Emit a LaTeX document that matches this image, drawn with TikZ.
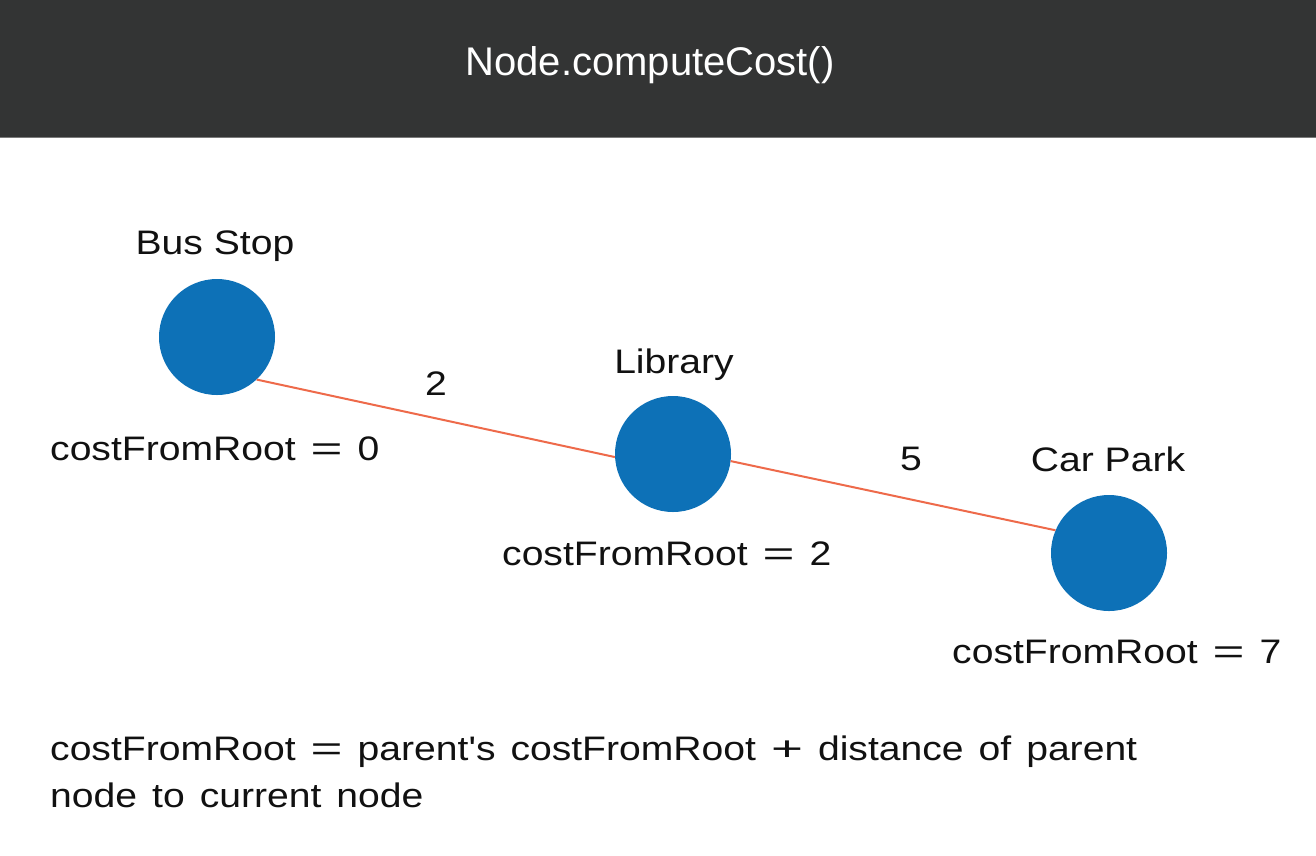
\documentclass[tikz,border=0pt]{standalone}
\usepackage{graphicx}
\usepackage{fontspec}
\setmainfont{Liberation Sans}
\newfontfamily\bodyfont[FakeStretch=1.15]{Liberation Sans}
\definecolor{headbg}{HTML}{333434}
\definecolor{headline}{HTML}{7A7A7A}
\definecolor{dotblue}{HTML}{0D71B7}
\definecolor{edgered}{HTML}{EE6A4A}
\definecolor{txt}{HTML}{111111}
\newcommand{\footsp}{\spaceskip 15pt\relax}
\tikzset{
  dot/.style={circle, fill=dotblue, draw=none, minimum size=116pt, inner sep=0pt},
  lbl/.style={anchor=base, inner sep=0pt, text=txt, font=\bodyfont\fontsize{34}{40}\selectfont},
  lblw/.style={anchor=base west, inner sep=0pt, text=txt, font=\bodyfont\fontsize{34}{40}\selectfont},
  edge/.style={draw=edgered, line width=2pt},
}
\newcommand{\myeq}{\hspace{15pt}\scalebox{1.4}[1]{=}\hspace{15pt}}
\newcommand{\myplus}{\hspace{15pt}\scalebox{1.4}[1]{+}\hspace{15pt}}
\begin{document}
\begin{tikzpicture}[x=1pt, y=-1pt]
\useasboundingbox (0,0) rectangle (1316,855);
\fill[white] (0,0) rectangle (1316,855);
\fill[headbg] (0,0) rectangle (1316,137);
\draw[headline, line width=1.5pt] (0,137.5) -- (1316,137.5);
\node[anchor=base, inner sep=0pt, text=white, font=\fontsize{40}{45}\selectfont] (title) at (650,75) {Node.computeCost()};

\node[dot] (bus) at (217,337) {};
\node[dot] (lib) at (673,454) {};
\node[dot] (car) at (1109,553) {};

\draw[edge] (bus.-47.7) -- (lib.183);
\draw[edge] (lib.-7.7) -- (car.157.8);

\node[lbl] (busname) at (215,254) {Bus Stop};
\node[lbl] (libname) at (674,373) {Library};
\node[lbl] (carname) at (1108,471) {Car Park};

\node[lbl] (w1) at (436,395) {2};
\node[lbl] (w2) at (911,470) {5};

\node[lblw] (c0) at (50,460) {costFromRoot\myeq{}0};
\node[lblw] (c2) at (502,565) {costFromRoot\myeq{}2};
\node[lblw] (c7) at (952,663) {costFromRoot\myeq{}7};

\node[lblw] (f1) at (50,760) {\footsp costFromRoot\myeq{}parent's costFromRoot\myplus{}distance of parent};
\node[lblw] (f2) at (50,807) {\footsp node to current node};
\end{tikzpicture}
\end{document}
